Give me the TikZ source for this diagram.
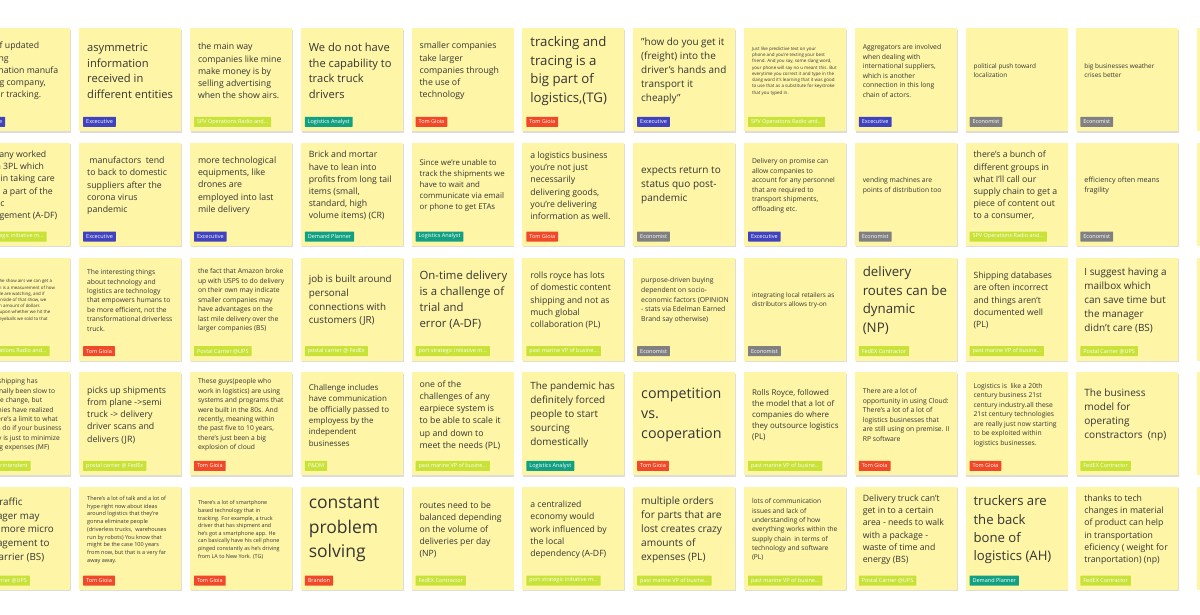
\documentclass[tikz,border=0pt]{standalone}
\usepackage{fontspec}
\setmainfont{Open Sans}

\definecolor{noteyellow}{RGB}{254,246,166}
\definecolor{notegray}{RGB}{222,222,214}
\definecolor{inkgray}{RGB}{52,52,52}
\definecolor{execblue}{RGB}{64,66,190}
\definecolor{limetag}{RGB}{200,226,56}
\definecolor{tealtag}{RGB}{18,160,130}
\definecolor{redtag}{RGB}{240,72,40}
\definecolor{graytag}{RGB}{128,128,128}

% one sticky: column, row, line spacing, text, tag colour, tag text
\newcommand{\sticky}[6]{%
  \pgfmathsetmacro{\nx}{79+(#1-1)*110.8}%
  \pgfmathsetmacro{\ny}{28+(#2-1)*114.7}%
  \pgfmathsetmacro{\fs}{#3/1.4}%
  \fill[notegray] (\nx+1,\ny+1.5) rectangle ++(102,103);
  \node[note] (note-#1-#2) at (\nx,\ny) {};
  \node[notetext,font=\fontsize{\fs pt}{#3pt}\selectfont] (text-#1-#2)
    at ([shift={(8,43)}]note-#1-#2.north west) {#4};
  \node[tag,fill=#5] (tag-#1-#2) at ([shift={(4,99)}]note-#1-#2.north west) {#6};
}

\begin{document}
\begin{tikzpicture}[x=1pt,y=-1pt,
    note/.style={fill=noteyellow,minimum width=102,minimum height=103,anchor=north west,inner sep=0},
    notetext/.style={anchor=west,align=left,inner sep=0,text=inkgray},
    tag/.style={anchor=south west,text=white,inner xsep=3,inner ysep=0,minimum height=10,
      rounded corners=0.5,font=\fontsize{5.5pt}{6pt}\selectfont}]
  \useasboundingbox (0,0) rectangle (1200,614);
  \fill[white] (0,0) rectangle (1200,614);
  \clip (0,0) rectangle (1200,614);

  % row 1
  \sticky{0}{1}{12.2}{loss of updated\\tracking\\information manufa\\the big company,\\proper tracking.}{execblue}{Excecutive}
  \sticky{1}{1}{15.6}{asymmetric\\information\\received in\\different entities}{execblue}{Excecutive}
  \sticky{2}{1}{12.25}{the main way\\companies like mine\\make money is by\\selling advertising\\when the show airs.}{limetag}{SPV Operations Radio and...}
  \sticky{3}{1}{15.6}{We do not have\\the capability to\\track truck\\drivers}{tealtag}{Logistics Analyst}
  \sticky{4}{1}{12.25}{smaller companies\\take larger\\companies through\\the use of\\technology}{redtag}{Tom Gioia}
  \sticky{5}{1}{18.5}{tracking and\\tracing is a\\big part of\\logistics,(TG)}{redtag}{Tom Gioia}
  \sticky{6}{1}{13.9}{"how do you get it\\(freight) into the\\driver's hands and\\transport it\\cheaply"}{execblue}{Excecutive}
  \sticky{7}{1}{6.3}{Just like predictive text on your\\phone and you're texting your best\\friend. And you say, some slang word,\\your phone will say no u meant this. But\\everytime you correct it and type in the\\slang word it's learning that it was good\\to use that as a substitute for keystroke\\that you typed in.}{limetag}{SPV Operations Radio and...}
  \sticky{8}{1}{9.5}{Aggregators are involved\\when dealing with\\international suppliers,\\which is another\\connection in this long\\chain of actors.}{execblue}{Excecutive}
  \sticky{9}{1}{9}{political push toward\\localization}{graytag}{Economist}
  \sticky{10}{1}{9}{big businesses weather\\crises better}{graytag}{Economist}

  % row 2
  \sticky{0}{2}{12.2}{company worked\\with a 3PL which\\helps in taking care\\and is a part of the\\logistic\\management (A-DF)}{limetag}{port strategic initiative m...}
  \sticky{1}{2}{12.25}{\ manufactors\ \ tend\\to back to domestic\\suppliers after the\\corona virus\\pandemic}{execblue}{Excecutive}
  \sticky{2}{2}{12.3}{more technological\\equipments, like\\drones are\\employed into last\\mile delivery}{execblue}{Excecutive}
  \sticky{3}{2}{12.2}{Brick and mortar\\have to lean into\\profits from long tail\\items (small,\\standard, high\\volume items) (CR)}{tealtag}{Demand Planner}
  \sticky{4}{2}{11}{Since we're unable to\\track the shipments we\\have to wait and\\communicate via email\\or phone to get ETAs}{tealtag}{Logistics Analyst}
  \sticky{5}{2}{12.2}{a logistics business\\you're not just\\necessarily\\delivering goods,\\you're delivering\\information as well.}{redtag}{Tom Gioia}
  \sticky{6}{2}{14}{expects return to\\status quo post-\\pandemic}{graytag}{Economist}
  \sticky{7}{2}{9.5}{Delivery on promise can\\allow companies to\\account for any personnel\\that are required to\\transport shipments,\\offloading etc.}{execblue}{Excecutive}
  \sticky{8}{2}{9.5}{vending machines are\\points of distribution too}{graytag}{Economist}
  \sticky{9}{2}{12.2}{there's a bunch of\\different groups in\\what I'll call our\\supply chain to get a\\piece of content out\\to a consumer,}{limetag}{SPV Operations Radio and...}
  \sticky{10}{2}{10}{efficiency often means\\fragility}{graytag}{Economist}

  % row 3
  \sticky{0}{3}{6.2}{and when the show airs we can get a\\rating which is a measurement of how\\many people are watching, and if\\the ads air inside of that show, we\\get a certain amount of dollars\\depending upon whether we hit the\\number of eyeballs we sold to that}{limetag}{SPV Operations Radio and...}
  \sticky{1}{3}{9.45}{The interesting things\\about technology and\\logistics are technology\\that empowers humans to\\be more efficient, not the\\transformational driverless\\truck.}{redtag}{Tom Gioia}
  \sticky{2}{3}{9.45}{the fact that Amazon broke\\up with USPS to do delivery\\on their own may indicate\\smaller companies may\\have advantages on the\\last mile delivery over the\\larger companies (BS)}{limetag}{Postal Carrier @UPS}
  \sticky{3}{3}{13.7}{job is built around\\personal\\connections with\\customers (JR)}{limetag}{postal carrier @ FedEx}
  \sticky{4}{3}{15.9}{On-time delivery\\is a challenge of\\trial and\\error (A-DF)}{limetag}{port strategic initiative m...}
  \sticky{5}{3}{12.1}{rolls royce has lots\\of domestic content\\shipping and not as\\much global\\collaboration (PL)}{limetag}{past marine VP of busine...}
  \sticky{6}{3}{9.6}{purpose-driven buying\\dependent on socio-\\economic factors (OPINION\\- stats via Edelman Earned\\Brand say otherwise)}{graytag}{Economist}
  \sticky{7}{3}{9}{integrating local retailers as\\distributors allows try-on}{graytag}{Economist}
  \sticky{8}{3}{18.6}{delivery\\routes can be\\dynamic\\(NP)}{limetag}{FedEX Contractor}
  \sticky{9}{3}{12.1}{Shipping databases\\are often incorrect\\and things aren't\\documented well\\(PL)}{limetag}{past marine VP of busine...}
  \sticky{10}{3}{13.9}{I suggest having a\\mailbox which\\can save time but\\the manager\\didn't care (BS)}{limetag}{Postal Carrier @UPS}

  % row 4
  \sticky{0}{4}{9.4}{Ocean shipping has\\traditionally been slow to\\embrace change, but\\companies have realized\\that there's a limit to what\\you can do if your business\\strategy is just to minimize\\shipping expenses (MF)}{limetag}{Port Superintendent}
  \sticky{1}{4}{12.3}{picks up shipments\\from plane ->semi\\truck -> delivery\\driver scans and\\delivers (JR)}{limetag}{postal carrier @ FedEx}
  \sticky{2}{4}{9.4}{These guys(people who\\work in logistics) are using\\systems and programs that\\were built in the 80s. And\\recently, meaning within\\the past five to 10 years,\\there's just been a big\\explosion of cloud}{redtag}{Tom Gioia}
  \sticky{3}{4}{11.2}{Challenge includes\\have communication\\be officially passed to\\employess by the\\independent\\businesses}{limetag}{P\&DM}
  \sticky{4}{4}{12.2}{one of the\\challenges of any\\earpiece system is\\to be able to scale it\\up and down to\\meet the needs (PL)}{limetag}{past marine VP of busine...}
  \sticky{5}{4}{13.9}{The pandemic has\\definitely forced\\people to start\\sourcing\\domestically}{tealtag}{Logistics Analyst}
  \sticky{6}{4}{20}{competition\\vs.\\cooperation}{redtag}{Tom Gioia}
  \sticky{7}{4}{11.1}{Rolls Royce, followed\\the model that a lot of\\companies do where\\they outsource logistics\\(PL)}{limetag}{past marine VP of busine...}
  \sticky{8}{4}{9.5}{There are a lot of\\opportunity in using Cloud:\\There's a lot of a lot of\\logistics businesses that\\are still using on premise. II\\RP software}{redtag}{Tom Gioia}
  \sticky{9}{4}{9.45}{Logistics is\ \ like a 20th\\century business 21st\\century industry.all these\\21st century technologies\\are really just now starting\\to be exploited within\\logistics businesses.}{redtag}{Tom Gioia}
  \sticky{10}{4}{14.1}{The business\\model for\\operating\\constractors\ \ (np)}{limetag}{FedEX Contractor}

  % row 5
  \sticky{0}{5}{13.75}{The traffic\\manager may\\have more micro\\management to\\the carrier (BS)}{limetag}{Postal Carrier @UPS}
  \sticky{1}{5}{7.75}{There's a lot of talk and a lot of\\hype right now about ideas\\around logistics that they're\\gonna eliminate people\\(driverless trucks,\ \ warehouses\\run by robots) You know that\\might be the case 100 years\\from now, but that is a very far\\away away.}{redtag}{Tom Gioia}
  \sticky{2}{5}{7.6}{There's a lot of smartphone\\based technology that in\\tracking. For example, a truck\\driver that has shipment and\\he's got a smartphone app. He\\can basically have his cell phone\\pinged constantly as he's driving\\from LA to New York. (TG)}{redtag}{Tom Gioia}
  \sticky{3}{5}{24.5}{constant\\problem\\solving}{redtag}{Brandon}
  \sticky{4}{5}{12.1}{routes need to be\\balanced depending\\on the volume of\\deliveries per day\\(NP)}{limetag}{FedEX Contractor}
  \sticky{5}{5}{12.1}{a centralized\\economy would\\work influenced by\\the local\\dependency (A-DF)}{limetag}{port strategic initiative m...}
  \sticky{6}{5}{14.2}{multiple orders\\for parts that are\\lost creates crazy\\amounts of\\expenses (PL)}{limetag}{past marine VP of busine...}
  \sticky{7}{5}{9.3}{lots of communication\\issues and lack of\\understanding of how\\everything works within the\\supply chain\ \ in terms of\\technology and software\\(PL)}{limetag}{past marine VP of busine...}
  \sticky{8}{5}{12.2}{Delivery truck can't\\get in to a certain\\area - needs to walk\\with a package -\\waste of time and\\energy (BS)}{limetag}{Postal Carrier @UPS}
  \sticky{9}{5}{18.4}{truckers are\\the back\\bone of\\logistics (AH)}{tealtag}{Demand Planner}
  \sticky{10}{5}{12.2}{thanks to tech\\changes in material\\of product can help\\in transportation\\eficiency ( weight for\\tranportation) (np)}{limetag}{FedEX Contractor}

  % stickies cut off at the right edge
  \foreach \r in {1,...,5}{
    \node[note] (edge-\r) at (1197,{28+(\r-1)*114.7}) {};
  }
\end{tikzpicture}
\end{document}
